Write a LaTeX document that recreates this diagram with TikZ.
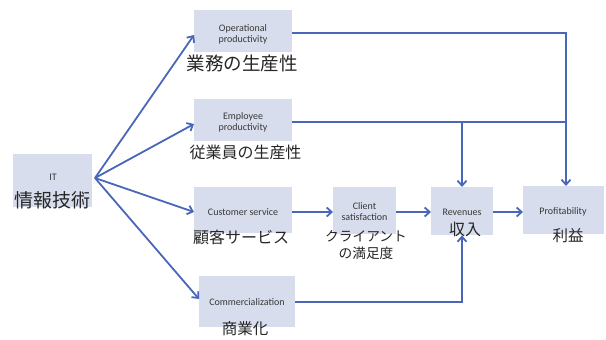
\documentclass[tikz,border=0pt]{standalone}
\usepackage{fontspec}
\setmainfont{Carlito}
\newfontfamily\jp{Noto Sans CJK JP}
\usetikzlibrary{arrows.meta,calc}
\definecolor{boxfill}{HTML}{D7DDEC}
\definecolor{arrowblue}{HTML}{4A66B8}
\begin{document}
\begin{tikzpicture}[x=1pt,y=-1pt,
  box/.style={draw=none,fill=boxfill,inner sep=0pt,anchor=north west},
  en/.style={font=\fontsize{10}{11.5}\selectfont,text=black!78,align=center},
  ja/.style={font=\fontsize{16}{17}\selectfont\jp,text=black!85,align=center,inner sep=0pt},
  conn/.style={draw=arrowblue,line width=1.8pt},
  arr/.style={conn,-{Straight Barb[length=5pt,width=9pt,line width=1.8pt]}}]
\useasboundingbox (0,0) rectangle (606,340);
% boxes
\node[box,minimum width=79pt,minimum height=53pt] (it) at (13,154) {};
\node[box,minimum width=98pt,minimum height=42pt] (op) at (194,10) {};
\node[box,minimum width=98pt,minimum height=42pt] (emp) at (194,99) {};
\node[box,minimum width=98pt,minimum height=46pt] (cust) at (194,187) {};
\node[box,minimum width=96pt,minimum height=51pt] (comm) at (199,276) {};
\node[box,minimum width=63pt,minimum height=47pt] (cli) at (333,187) {};
\node[box,minimum width=62pt,minimum height=48pt] (rev) at (431,187) {};
\node[box,minimum width=81pt,minimum height=48pt] (prof) at (523,186) {};
% english labels
\node[en] (itl) at (53,177) {IT};
\node[en] (opl) at (243,34.5) {Operational\\productivity};
\node[en] (empl) at (243,122.5) {Employee\\productivity};
\node[en] (custl) at (243,212) {Customer service};
\node[en] (comml) at (247,302) {Commercialization};
\node[en] (clil) at (364.5,211.5) {Client\\satisfaction};
\node[en] (revl) at (462,212) {Revenues};
\node[en] (profl) at (563,212) {Profitability};
% japanese labels
\node[ja,font=\fontsize{19}{20}\selectfont\jp] (itj) at (53,200) {情報技術};
\node[ja,font=\fontsize{18.5}{20}\selectfont\jp] (opj) at (242,63) {業務の生産性};
\node[ja] (empj) at (245.5,152) {従業員の生産性};
\node[ja] (custj) at (241,237) {顧客サービス};
\node[ja,font=\fontsize{15.5}{17}\selectfont\jp] (commj) at (245,329) {商業化};
\node[ja,font=\fontsize{13.7}{17}\selectfont\jp] (clij) at (366,245.5) {クライアント\\の満足度};
\node[ja] (revj) at (465,229) {収入};
\node[ja,font=\fontsize{15.5}{17}\selectfont\jp] (profj) at (568,236) {利益};
% connectors from IT
\coordinate (itout) at (95,178);
\draw[arr] (itout) -- (op.west |- 0,35);
\draw[arr] (itout) -- (emp.west |- 0,124);
\draw[arr] (itout) -- (cust.west |- 0,212);
\draw[arr] (itout) -- (comm.west |- 0,299);
% chain
\draw[arr] (cust.east |- 0,212) -- (cli.west |- 0,212);
\draw[arr] (cli.east |- 0,212) -- (rev.west |- 0,212);
\draw[arr] (rev.east |- 0,212) -- (prof.west |- 0,212);
% top feedback lines
\coordinate (tr) at (566,33);
\coordinate (er) at (566,122);
\coordinate (ej) at (462,122);
\draw[arr] (op.east |- tr) -- (tr) -- (prof.north -| tr);
\draw[conn] (emp.east |- er) -- (er);
\draw[arr] (ej) -- (rev.north -| ej);
% commercialization line
\coordinate (cm) at (462,302);
\draw[arr] (comm.east |- cm) -- (cm) -- (rev.south -| cm);
\end{tikzpicture}
\end{document}
